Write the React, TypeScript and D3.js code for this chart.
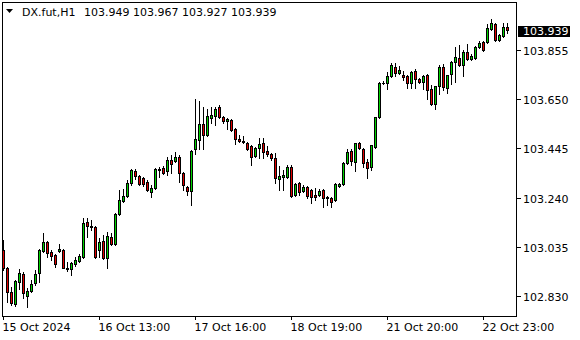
import React from "react";
import * as d3 from "d3";

const symbol = "DX.fut,H1";

const open = [
  103.022, 102.947, 102.847, 102.797, 102.888, 102.922, 102.830, 102.851, 102.884, 102.926,
  103.017, 103.055, 103.013, 103.001, 103.017, 103.022, 102.942, 102.942, 102.963, 102.976,
  102.992, 103.138, 103.117, 103.117, 103.022, 103.059, 102.988, 103.076, 103.047, 103.172,
  103.226, 103.247, 103.301, 103.351, 103.330, 103.322, 103.305, 103.263, 103.280, 103.355,
  103.363, 103.351, 103.397, 103.392, 103.409, 103.342, 103.284, 103.267, 103.442, 103.480,
  103.547, 103.501, 103.572, 103.580, 103.617, 103.576, 103.559, 103.563, 103.526, 103.484,
  103.476, 103.467, 103.455, 103.413, 103.447, 103.467, 103.434, 103.422, 103.405, 103.317,
  103.326, 103.326, 103.367, 103.251, 103.301, 103.267, 103.284, 103.272, 103.251, 103.251,
  103.272, 103.242, 103.238, 103.230, 103.288, 103.297, 103.384, 103.434, 103.388, 103.467,
  103.442, 103.388, 103.367, 103.451, 103.576, 103.716, 103.717, 103.747, 103.784, 103.759,
  103.751, 103.747, 103.717, 103.767, 103.734, 103.722, 103.751, 103.692, 103.630, 103.705,
  103.784, 103.697, 103.755, 103.805, 103.822, 103.792, 103.847, 103.817, 103.822, 103.867,
  103.888, 103.888, 103.942, 103.963, 103.897, 103.913, 103.949,
];
const high = [
  103.063, 102.950, 102.867, 102.897, 102.942, 102.930, 102.863, 102.897, 102.938, 103.026,
  103.092, 103.059, 103.022, 103.005, 103.047, 103.026, 102.972, 102.972, 102.992, 103.005,
  103.155, 103.155, 103.147, 103.122, 103.072, 103.084, 103.097, 103.092, 103.176, 103.272,
  103.276, 103.313, 103.359, 103.359, 103.334, 103.326, 103.313, 103.292, 103.363, 103.367,
  103.372, 103.409, 103.417, 103.430, 103.417, 103.346, 103.288, 103.438, 103.651, 103.642,
  103.617, 103.609, 103.617, 103.617, 103.626, 103.580, 103.570, 103.567, 103.528, 103.501,
  103.497, 103.472, 103.459, 103.451, 103.488, 103.488, 103.455, 103.426, 103.426, 103.372,
  103.355, 103.376, 103.376, 103.301, 103.305, 103.292, 103.288, 103.276, 103.280, 103.276,
  103.276, 103.247, 103.242, 103.301, 103.301, 103.388, 103.442, 103.442, 103.467, 103.472,
  103.447, 103.401, 103.459, 103.576, 103.722, 103.726, 103.763, 103.801, 103.801, 103.788,
  103.767, 103.751, 103.767, 103.776, 103.738, 103.751, 103.755, 103.709, 103.705, 103.792,
  103.797, 103.751, 103.809, 103.867, 103.876, 103.855, 103.880, 103.838, 103.872, 103.893,
  103.893, 103.963, 103.984, 103.967, 103.922, 103.967, 103.967,
];
const low = [
  102.938, 102.805, 102.792, 102.788, 102.859, 102.822, 102.784, 102.847, 102.876, 102.888,
  103.013, 102.992, 102.980, 102.951, 103.013, 102.945, 102.934, 102.917, 102.955, 102.972,
  102.988, 103.076, 103.105, 102.988, 102.992, 102.984, 102.947, 103.042, 103.042, 103.167,
  103.222, 103.242, 103.292, 103.317, 103.292, 103.288, 103.267, 103.242, 103.276, 103.326,
  103.338, 103.334, 103.342, 103.388, 103.305, 103.272, 103.251, 103.209, 103.422, 103.442,
  103.442, 103.497, 103.551, 103.542, 103.572, 103.551, 103.526, 103.517, 103.463, 103.472,
  103.467, 103.438, 103.376, 103.409, 103.405, 103.405, 103.413, 103.397, 103.301, 103.272,
  103.272, 103.322, 103.242, 103.247, 103.251, 103.263, 103.238, 103.217, 103.230, 103.247,
  103.201, 103.209, 103.201, 103.226, 103.284, 103.292, 103.380, 103.376, 103.351, 103.442,
  103.367, 103.322, 103.355, 103.447, 103.572, 103.713, 103.692, 103.742, 103.747, 103.755,
  103.730, 103.697, 103.697, 103.697, 103.717, 103.692, 103.651, 103.626, 103.609, 103.672,
  103.688, 103.676, 103.713, 103.722, 103.788, 103.747, 103.813, 103.813, 103.817, 103.863,
  103.851, 103.884, 103.938, 103.893, 103.893, 103.909, 103.927,
];
const close = [
  102.947, 102.847, 102.801, 102.892, 102.926, 102.842, 102.851, 102.880, 102.922, 103.022,
  103.055, 103.009, 102.997, 102.963, 103.026, 102.947, 102.947, 102.967, 102.980, 102.997,
  103.134, 103.122, 103.122, 102.992, 103.055, 102.988, 103.080, 103.047, 103.172, 103.230,
  103.247, 103.301, 103.355, 103.330, 103.297, 103.297, 103.272, 103.280, 103.359, 103.359,
  103.342, 103.397, 103.380, 103.409, 103.342, 103.292, 103.267, 103.434, 103.484, 103.547,
  103.501, 103.580, 103.584, 103.609, 103.576, 103.559, 103.567, 103.522, 103.484, 103.476,
  103.472, 103.442, 103.409, 103.447, 103.463, 103.430, 103.422, 103.405, 103.322, 103.330,
  103.334, 103.367, 103.247, 103.297, 103.263, 103.284, 103.247, 103.242, 103.242, 103.267,
  103.238, 103.238, 103.222, 103.297, 103.297, 103.384, 103.430, 103.392, 103.467, 103.447,
  103.384, 103.363, 103.459, 103.576, 103.717, 103.718, 103.747, 103.792, 103.759, 103.772,
  103.742, 103.717, 103.763, 103.734, 103.722, 103.747, 103.688, 103.630, 103.705, 103.784,
  103.701, 103.751, 103.805, 103.826, 103.792, 103.847, 103.817, 103.830, 103.867, 103.884,
  103.855, 103.947, 103.967, 103.897, 103.917, 103.951, 103.939,
];

const xTickBars = [0, 24, 48, 72, 96, 120];
const xTickLabels = ["15 Oct 2024", "16 Oct 13:00", "17 Oct 16:00", "18 Oct 19:00", "21 Oct 20:00", "22 Oct 23:00"];
const yTicks = [102.83, 103.035, 103.24, 103.445, 103.65, 103.855];

const FONT = "'DejaVu Sans', sans-serif";
const UP = "#00d200";
const DOWN = "#e00000";

export default function App() {
  const W = 580;
  const H = 340;
  const n = open.length;
  const x = d3.scaleLinear().domain([0, n - 1]).range([3.5, 507.5]);
  const y = d3.scaleLinear().domain([102.83, 103.855]).range([296.5, 50.5]);
  const left = 2, top = 2, right = 517, bottom = 316;
  const last = n - 1;
  const lastY = y(close[last]);

  return (
    <svg
      width={W}
      height={H}
      viewBox={`0 0 ${W} ${H}`}
      style={{ position: "fixed", left: 0, top: 0, display: "block", background: "#fff" }}
      fontFamily={FONT}
      fontSize={11}
    >
      <rect x={0} y={0} width={W} height={H} fill="#fff" />
      <g shapeRendering="crispEdges">
        {d3.range(n).map((i) => {
          const cx = x(i);
          const o = open[i], c = close[i];
          const yH = Math.floor(y(high[i]));
          const yL = Math.floor(y(low[i]));
          const yT = Math.floor(y(Math.max(o, c)));
          const yB = Math.floor(y(Math.min(o, c)));
          const up = c >= o;
          return (
            <g key={i}>
              <line x1={cx} x2={cx} y1={yH} y2={yL + 1} stroke="#000" strokeWidth={1} />
              {yB > yT ? (
                <rect x={cx - 1} y={yT + 0.5} width={2} height={yB - yT} fill={up ? UP : DOWN} stroke="#000" strokeWidth={1} />
              ) : (
                <line x1={cx - 1.5} x2={cx + 1.5} y1={yT + 0.5} y2={yT + 0.5} stroke="#000" strokeWidth={1} />
              )}
            </g>
          );
        })}
      </g>
      <g shapeRendering="crispEdges">
        <rect x={left + 0.5} y={top + 0.5} width={right - left - 1} height={bottom - top} fill="none" stroke="#000" strokeWidth={1} />
        {yTicks.map((t) => (
          <line key={t} x1={right - 0.5} x2={right + 3.5} y1={Math.floor(y(t)) + 0.5} y2={Math.floor(y(t)) + 0.5} stroke="#000" />
        ))}
        {xTickBars.map((b) => (
          <line key={b} x1={x(b)} x2={x(b)} y1={bottom} y2={bottom + 4} stroke="#000" />
        ))}
      </g>
      {yTicks.map((t) => (
        <text key={t} x={523} y={Math.floor(y(t)) + 4.5} fill="#000">
          {t.toFixed(3)}
        </text>
      ))}
      <rect x={517.5} y={Math.floor(lastY) - 4} width={52} height={11} fill="#000" shapeRendering="crispEdges" />
      <text x={523} y={Math.floor(lastY) + 5} fill="#fff">
        {close[last].toFixed(3)}
      </text>
      {xTickBars.map((b, k) => (
        <text key={b} x={x(b) - 1} y={331} fill="#000">
          {xTickLabels[k]}
        </text>
      ))}
      <path d="M6,9 L13,9 L9.5,13 Z" fill="#000" />
      <text x={22} y={16} fill="#000">
        {symbol}
      </text>
      <text x={84} y={16} fill="#000">
        {[open[last], high[last], low[last], close[last]].map((v) => v.toFixed(3)).join(" ")}
      </text>
    </svg>
  );
}
